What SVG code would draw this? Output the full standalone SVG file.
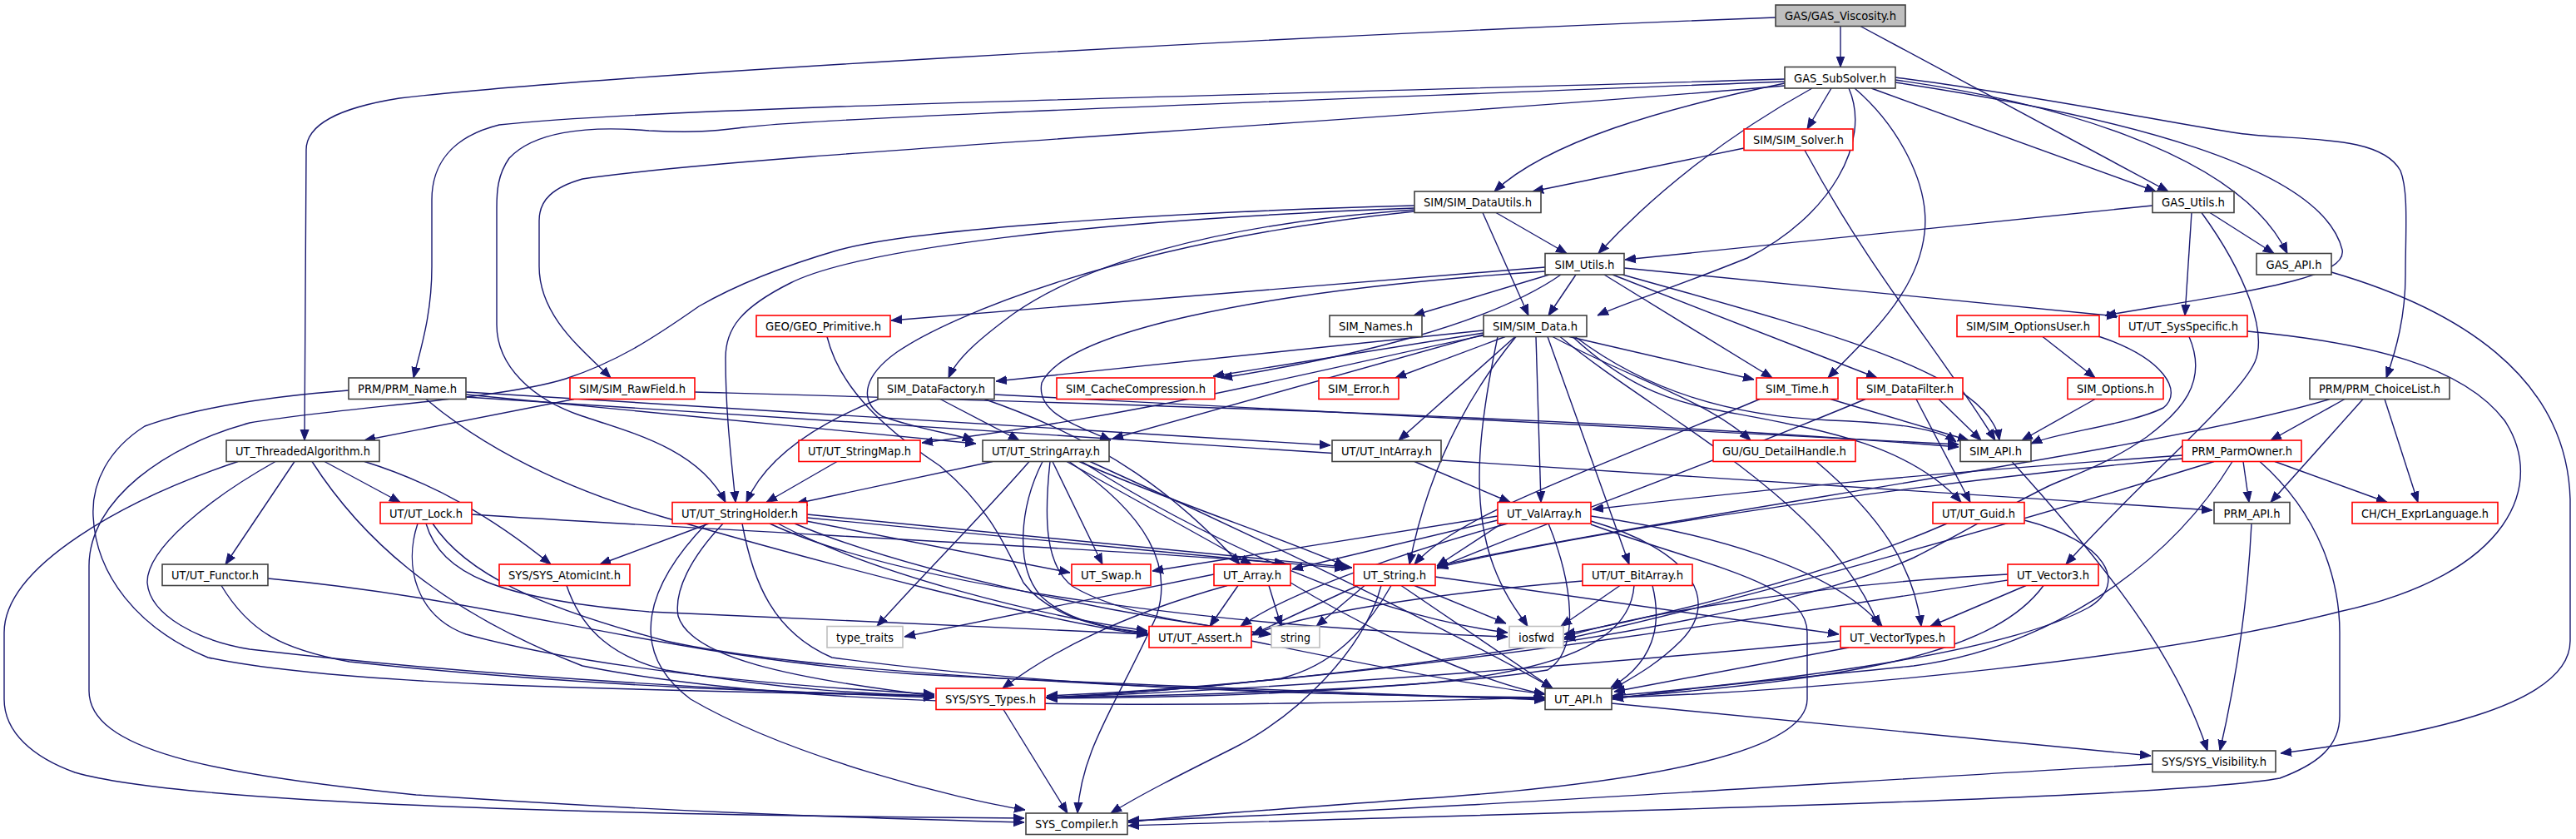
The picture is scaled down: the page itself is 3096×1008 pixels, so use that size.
<svg xmlns="http://www.w3.org/2000/svg" width="3096" height="1008" viewBox="0 0 3096 1008">
<style>
.node rect{fill:#ffffff;stroke:#404040;stroke-width:1.6}
.node.r rect{stroke:#ff0000}
.node.g rect{stroke:#bfbfbf}
.node text{font-family:"DejaVu Sans Condensed","DejaVu Sans",sans-serif;font-size:14px;fill:#000000;text-anchor:middle}
#edges path{fill:none;stroke:#191970;stroke-width:1.4;marker-end:url(#arr)}
</style>
<defs>
<marker id="arr" markerUnits="userSpaceOnUse" viewBox="0 -6 13 12" refX="13" refY="0" markerWidth="13" markerHeight="12" orient="auto">
<path d="M0,-5 L13,0 L0,5 Z" fill="#191970" stroke="#191970" stroke-width="1"/>
</marker>
</defs>
<rect x="0" y="0" width="3096" height="1008" fill="#ffffff"/>
<g id="edges">
<path d="M2212,31.5 L2212,80.5"/>
<path d="M2236,31.5 L2606,230"/>
<path d="M2134,21 C1500,45 700,92 480,118 C405,130 368,150 368,180 L366,529"/>
<path d="M2201,106 L2172,155"/>
<path d="M2145,100 C2000,130 1860,170 1796,230"/>
<path d="M2096,178 L1842,230"/>
<path d="M2249,106 L2591,230"/>
<path d="M1798,255.5 L1883,304.5"/>
<path d="M2178,106 C2080,160 1990,230 1921,304.5"/>
<path d="M2587,247 L1953,312"/>
<path d="M2656,255.5 L2733,304.5"/>
<path d="M2278,96 C2450,120 2690,180 2749,304.5"/>
<path d="M2278,99 C2550,140 2790,200 2815,300 C2822,335 2700,350 2530,379"/>
<path d="M2278,93 C2450,115 2620,150 2690,160 C2760,170 2860,160 2885,205 C2895,230 2891,280 2891,330 C2891,380 2880,420 2868,454"/>
<path d="M2145,95 C1500,115 800,128 600,150 C540,165 519,200 519,240 L519,320 C519,380 505,420 497,454"/>
<path d="M2145,103 C1600,150 900,185 700,215 C665,225 648,240 648,265 L648,320 C648,380 700,420 734,454"/>
<path d="M2145,98 C1600,120 1000,140 894,153 C860,157 840,160 780,157 C700,150 640,160 612,190 C598,210 597,230 597,250 L597,390 C597,440 640,480 700,500 C760,520 840,540 872,603.5"/>
<path d="M2222,106 C2250,170 2200,260 2100,310 C2000,350 1950,365 1920,379"/>
<path d="M2229,106 C2280,150 2320,220 2313,280 C2305,350 2250,400 2197,454"/>
<path d="M1782,255.5 L1837,379"/>
<path d="M1894,330 L1861,379"/>
<path d="M1857,321 L1071,385"/>
<path d="M1862,330 L1699,379"/>
<path d="M1928,330 L2130,454"/>
<path d="M1938,330 L2256,454"/>
<path d="M1952,322 L2545,380"/>
<path d="M1950,330 C2200,400 2390,450 2403,529"/>
<path d="M1857,326 C1500,350 1280,400 1252,460 C1245,495 1290,510 1335,529"/>
<path d="M1876,330 C1790,390 1620,430 1468,454"/>
<path d="M2634,255.5 L2626,379"/>
<path d="M2646,255.5 C2700,330 2725,400 2710,435 C2690,480 2560,590 2483,678"/>
<path d="M2802,327 C2950,370 3085,450 3089,600 L3089,770 C3089,850 2900,885 2741,905"/>
<path d="M2701,398 C2850,412 2960,440 3010,505 C3060,580 3020,690 2811,735 C2600,790 2200,830 1938,838"/>
<path d="M2631,404.5 C2655,460 2620,495 2580,525 C2530,560 2480,575 2460,585 C2400,615 2350,645 2300,670 C2100,760 1500,828 1257,838"/>
<path d="M1783,397 L1197,458"/>
<path d="M1783,400 L1458,452"/>
<path d="M1809,404.5 L1677,454"/>
<path d="M1886,404.5 L2108,456"/>
<path d="M1821,404.5 L1681,529"/>
<path d="M1866,404.5 C1960,455 2050,480 2104,529"/>
<path d="M1893,404.5 C1980,470 2080,500 2200,505 C2280,508 2330,515 2351,531"/>
<path d="M1846,404.5 L1852,603.5"/>
<path d="M1860,404.5 L1958,678"/>
<path d="M1822,404.5 C1760,480 1715,570 1694,678"/>
<path d="M1783,402 L1337,527"/>
<path d="M1783,403 C1600,440 1400,495 1108,532"/>
<path d="M1890,404.5 C1950,460 2000,480 2060,492 C2180,515 2290,530 2357,603.5"/>
<path d="M1800,404.5 C1780,500 1765,600 1795,680 C1810,720 1828,740 1836,752.5"/>
<path d="M1875,404.5 C1990,500 2200,600 2258,752.5"/>
<path d="M1700,247 C1400,255 1100,275 1009,300 C940,320 880,345 840,368 C780,410 740,435 680,455 C600,480 420,488 300,508 C200,535 107,600 107,680 L107,830 C107,900 250,930 500,955 C800,975 1000,982 1231,988"/>
<path d="M1700,250 C1300,265 1030,300 950,340 C890,370 872,395 872,430 C872,500 880,560 884,603.5"/>
<path d="M1700,252 C1450,270 1300,320 1218,377 C1180,405 1150,430 1140,454"/>
<path d="M1700,254 C1350,290 1140,380 1078,423 C1040,450 1030,480 1060,500 C1100,515 1150,522 1170,529"/>
<path d="M2169,180.5 C2250,330 2330,420 2398,529"/>
<path d="M2455,404.5 L2518,454"/>
<path d="M2522,404 C2600,430 2625,470 2600,490 C2560,510 2470,520 2441,533"/>
<path d="M2518,479.5 L2430,529"/>
<path d="M2200,479.5 L2366,529"/>
<path d="M2115,479.5 C1900,570 1750,620 1700,678"/>
<path d="M2330,479.5 L2381,529"/>
<path d="M2303,479.5 L2368,603.5"/>
<path d="M2242,479.5 C2050,560 1850,630 1727,683"/>
<path d="M690,479.5 L438,529"/>
<path d="M835,471 C1300,484 1900,500 2354,537"/>
<path d="M560,474 L1173,533"/>
<path d="M560,471 L1599,535"/>
<path d="M560,477 L2659,613"/>
<path d="M419,469 C300,478 220,495 174,512 C130,540 110,580 112,620 C115,690 165,755 250,790 C400,822 700,828 1123,836"/>
<path d="M512,479.5 C560,520 650,580 800,622 C1000,680 1250,745 1379,763"/>
<path d="M390,554.5 L481,603.5"/>
<path d="M354,554.5 L271,678"/>
<path d="M438,554.5 C520,580 590,620 662,678"/>
<path d="M286,554.5 C150,600 5,680 5,760 L5,840 C5,880 40,910 90,928 C200,960 600,978 1231,983"/>
<path d="M331,554.5 C250,600 176,660 177,700 C180,740 240,770 300,780 C600,815 900,830 1123,838"/>
<path d="M375,554.5 C430,640 520,730 700,800 C1000,860 1500,848 1857,838"/>
<path d="M567,618 C900,640 1400,662 1617,683"/>
<path d="M502,629 C485,680 500,740 560,762 C700,800 900,822 1123,834"/>
<path d="M512,629 C530,690 600,720 780,735 C1000,745 1250,755 1379,762"/>
<path d="M520,629 C560,690 650,730 800,770 C1000,815 1500,832 1857,840"/>
<path d="M322,695 C600,720 800,790 1100,810 C1400,825 1700,835 1857,841"/>
<path d="M266,703.5 C300,760 340,780 420,795 C700,825 950,832 1123,836"/>
<path d="M681,703.5 C700,760 740,790 800,805 C950,830 1050,834 1123,836"/>
<path d="M1006,554.5 L921,603.5"/>
<path d="M1193,554.5 L957,605"/>
<path d="M1237,554.5 C1180,620 1100,700 1054,752.5"/>
<path d="M1265,554.5 L1325,678"/>
<path d="M1282,554.5 L1504,678"/>
<path d="M1297,554.5 C1400,600 1550,650 1617,680"/>
<path d="M1253,554.5 C1225,610 1220,680 1250,715 C1280,745 1330,755 1379,760"/>
<path d="M1262,554.5 C1255,620 1255,680 1290,705 C1350,740 1450,752 1528,762"/>
<path d="M1285,554.5 C1380,620 1410,680 1390,740 C1340,850 1300,900 1295,977"/>
<path d="M1310,554.5 C1500,640 1750,760 1866,827"/>
<path d="M1300,554.5 C1450,650 1650,740 1812,760"/>
<path d="M1700,554.5 L1815,603.5"/>
<path d="M1800,620 L1385,686"/>
<path d="M1800,625 L1553,684"/>
<path d="M1805,629 L1727,680"/>
<path d="M1812,629 C1700,660 1550,710 1491,752.5"/>
<path d="M1861,629 C1890,700 1900,780 1860,805 C1700,830 1400,836 1258,838"/>
<path d="M1912,626 C2030,660 2070,720 2020,770 C1990,800 1960,815 1938,828"/>
<path d="M1912,630 C2050,680 2172,700 2172,760 L2172,840 C2172,900 2000,940 1700,960 C1500,975 1400,982 1356,988"/>
<path d="M1912,620 C2050,640 2200,680 2262,752.5"/>
<path d="M1459,690 L1087,765"/>
<path d="M1488,703.5 L1454,752.5"/>
<path d="M1475,703.5 C1380,730 1280,770 1205,827"/>
<path d="M1551,700 C1650,760 1780,820 1857,834"/>
<path d="M1525,703.5 L1540,752.5"/>
<path d="M1640,703.5 L1582,752.5"/>
<path d="M1632,703.5 L1506,762"/>
<path d="M1700,703.5 L1810,749"/>
<path d="M1684,703.5 L1866,827"/>
<path d="M1725,693 L2210,762"/>
<path d="M1672,703.5 C1640,760 1600,800 1540,815 C1400,832 1300,836 1258,838"/>
<path d="M1660,703.5 C1640,780 1560,860 1480,900 C1420,930 1370,955 1335,977"/>
<path d="M1947,703.5 L1876,752.5"/>
<path d="M1986,703.5 C2000,760 1980,800 1936,826"/>
<path d="M1964,703.5 C1960,760 1900,805 1700,822 C1500,838 1350,838 1258,839"/>
<path d="M1902,698 C1700,715 1560,740 1504,763"/>
<path d="M2435,703.5 L2320,752.5"/>
<path d="M2413,690 C2200,700 1950,740 1880,766"/>
<path d="M2456,703.5 C2400,780 2250,815 1938,838"/>
<path d="M2413,697 C2000,760 1600,822 1258,836"/>
<path d="M2222,778 L1940,831"/>
<path d="M2212,770 C1900,800 1500,830 1258,838"/>
<path d="M2340,629 C2200,690 2000,740 1880,762"/>
<path d="M2433,625 C2530,650 2560,700 2510,730 C2400,790 2100,822 1938,836"/>
<path d="M2696,554.5 L2703,603.5"/>
<path d="M2734,554.5 L2869,603.5"/>
<path d="M2623,547 C2300,570 2100,590 1914,612"/>
<path d="M2623,551 C2300,580 1900,640 1727,682"/>
<path d="M2661,554.5 C2450,620 2100,720 1880,768"/>
<path d="M2683,554.5 C2600,690 2450,780 2300,800 C2100,820 2000,830 1938,840"/>
<path d="M2716,554.5 C2790,620 2812,700 2812,760 L2812,860 C2812,900 2780,920 2740,935 C2600,960 1900,975 1356,992"/>
<path d="M2818,479.5 L2729,529"/>
<path d="M2840,479.5 L2729,603.5"/>
<path d="M2866,479.5 L2906,603.5"/>
<path d="M2800,479.5 C2600,540 2000,620 1727,680"/>
<path d="M2706,629 C2700,750 2680,850 2668,902"/>
<path d="M2418,554.5 C2550,700 2620,800 2653,902"/>
<path d="M1937,845 L2585,908"/>
<path d="M2587,918 C2200,940 1700,975 1356,986"/>
<path d="M1206,852.5 L1283,977"/>
<path d="M1504,770 C1650,800 1780,825 1857,834"/>
<path d="M994,404.5 C1010,470 1070,520 1130,560 C1190,610 1210,660 1230,700 C1260,740 1320,755 1379,761"/>
<path d="M1056,479.5 C980,510 920,550 897,603.5"/>
<path d="M1130,479.5 L1225,529"/>
<path d="M1183,479.5 C1330,530 1420,600 1490,678"/>
<path d="M1195,474 C1600,495 2000,515 2354,534"/>
<path d="M2183,554.5 C2260,620 2300,680 2309,752.5"/>
<path d="M852,629 L721,678"/>
<path d="M969,626 L1286,688"/>
<path d="M970,622 L1545,677"/>
<path d="M970,618 L1625,682"/>
<path d="M955,629 C1100,690 1350,740 1526,762"/>
<path d="M935,629 C1050,690 1250,740 1379,758"/>
<path d="M925,629 C1100,710 1500,755 1812,765"/>
<path d="M892,629 C905,700 930,760 1000,790 C1300,830 1600,835 1857,838"/>
<path d="M869,629 C830,670 810,710 815,740 C830,790 950,815 1123,836"/>
<path d="M849,629 C780,700 750,780 830,840 C950,910 1150,960 1232,973"/>
</g>
<g id="n_viscosity" class="node"><rect x="2134" y="6" width="156" height="25.5" style="fill:#bfbfbf"/><text x="2212" y="24" textLength="134" lengthAdjust="spacingAndGlyphs">GAS/GAS_Viscosity.h</text></g>
<g id="n_subsolver" class="node"><rect x="2145" y="80.5" width="133" height="25.5"/><text x="2211.5" y="98.5" textLength="111" lengthAdjust="spacingAndGlyphs">GAS_SubSolver.h</text></g>
<g id="n_simsolver" class="node r"><rect x="2096" y="155" width="131" height="25.5"/><text x="2161.5" y="173" textLength="109" lengthAdjust="spacingAndGlyphs">SIM/SIM_Solver.h</text></g>
<g id="n_datautils" class="node"><rect x="1700" y="230" width="152" height="25.5"/><text x="1776" y="248" textLength="130" lengthAdjust="spacingAndGlyphs">SIM/SIM_DataUtils.h</text></g>
<g id="n_gasutils" class="node"><rect x="2587" y="230" width="98" height="25.5"/><text x="2636" y="248" textLength="76" lengthAdjust="spacingAndGlyphs">GAS_Utils.h</text></g>
<g id="n_simutils" class="node"><rect x="1857" y="304.5" width="95" height="25.5"/><text x="1904.5" y="322.5" textLength="72" lengthAdjust="spacingAndGlyphs">SIM_Utils.h</text></g>
<g id="n_gasapi" class="node"><rect x="2712" y="304.5" width="90" height="25.5"/><text x="2757" y="322.5" textLength="67" lengthAdjust="spacingAndGlyphs">GAS_API.h</text></g>
<g id="n_geoprim" class="node r"><rect x="909" y="379" width="161" height="25.5"/><text x="989.5" y="397" textLength="139" lengthAdjust="spacingAndGlyphs">GEO/GEO_Primitive.h</text></g>
<g id="n_simnames" class="node"><rect x="1598" y="379" width="111" height="25.5"/><text x="1653.5" y="397" textLength="89" lengthAdjust="spacingAndGlyphs">SIM_Names.h</text></g>
<g id="n_simdata" class="node"><rect x="1783" y="379" width="124" height="25.5"/><text x="1845" y="397" textLength="102" lengthAdjust="spacingAndGlyphs">SIM/SIM_Data.h</text></g>
<g id="n_optionsuser" class="node r"><rect x="2352" y="379" width="171" height="25.5"/><text x="2437.5" y="397" textLength="149" lengthAdjust="spacingAndGlyphs">SIM/SIM_OptionsUser.h</text></g>
<g id="n_sysspecific" class="node r"><rect x="2547" y="379" width="154" height="25.5"/><text x="2624" y="397" textLength="132" lengthAdjust="spacingAndGlyphs">UT/UT_SysSpecific.h</text></g>
<g id="n_prmname" class="node"><rect x="419" y="454" width="141" height="25.5"/><text x="489.5" y="472" textLength="119" lengthAdjust="spacingAndGlyphs">PRM/PRM_Name.h</text></g>
<g id="n_rawfield" class="node r"><rect x="685" y="454" width="150" height="25.5"/><text x="760" y="472" textLength="128" lengthAdjust="spacingAndGlyphs">SIM/SIM_RawField.h</text></g>
<g id="n_datafactory" class="node"><rect x="1055" y="454" width="140" height="25.5"/><text x="1125" y="472" textLength="118" lengthAdjust="spacingAndGlyphs">SIM_DataFactory.h</text></g>
<g id="n_cachecomp" class="node r"><rect x="1270" y="454" width="190" height="25.5"/><text x="1365" y="472" textLength="168" lengthAdjust="spacingAndGlyphs">SIM_CacheCompression.h</text></g>
<g id="n_simerror" class="node r"><rect x="1585" y="454" width="96" height="25.5"/><text x="1633" y="472" textLength="74" lengthAdjust="spacingAndGlyphs">SIM_Error.h</text></g>
<g id="n_simtime" class="node r"><rect x="2111" y="454" width="98" height="25.5"/><text x="2160" y="472" textLength="76" lengthAdjust="spacingAndGlyphs">SIM_Time.h</text></g>
<g id="n_datafilter" class="node r"><rect x="2232" y="454" width="127" height="25.5"/><text x="2295.5" y="472" textLength="105" lengthAdjust="spacingAndGlyphs">SIM_DataFilter.h</text></g>
<g id="n_simoptions" class="node r"><rect x="2485" y="454" width="115" height="25.5"/><text x="2542.5" y="472" textLength="93" lengthAdjust="spacingAndGlyphs">SIM_Options.h</text></g>
<g id="n_choicelist" class="node"><rect x="2776" y="454" width="168" height="25.5"/><text x="2860" y="472" textLength="146" lengthAdjust="spacingAndGlyphs">PRM/PRM_ChoiceList.h</text></g>
<g id="n_threaded" class="node"><rect x="272" y="529" width="184" height="25.5"/><text x="364" y="547" textLength="162" lengthAdjust="spacingAndGlyphs">UT_ThreadedAlgorithm.h</text></g>
<g id="n_stringmap" class="node r"><rect x="960" y="529" width="146" height="25.5"/><text x="1033" y="547" textLength="124" lengthAdjust="spacingAndGlyphs">UT/UT_StringMap.h</text></g>
<g id="n_stringarray" class="node"><rect x="1181" y="529" width="152" height="25.5"/><text x="1257" y="547" textLength="130" lengthAdjust="spacingAndGlyphs">UT/UT_StringArray.h</text></g>
<g id="n_intarray" class="node"><rect x="1601" y="529" width="131" height="25.5"/><text x="1666.5" y="547" textLength="109" lengthAdjust="spacingAndGlyphs">UT/UT_IntArray.h</text></g>
<g id="n_detailhandle" class="node r"><rect x="2059" y="529" width="171" height="25.5"/><text x="2144.5" y="547" textLength="149" lengthAdjust="spacingAndGlyphs">GU/GU_DetailHandle.h</text></g>
<g id="n_simapi" class="node"><rect x="2356" y="529" width="85" height="25.5"/><text x="2398.5" y="547" textLength="63" lengthAdjust="spacingAndGlyphs">SIM_API.h</text></g>
<g id="n_parmowner" class="node r"><rect x="2623" y="529" width="143" height="25.5"/><text x="2694.5" y="547" textLength="121" lengthAdjust="spacingAndGlyphs">PRM_ParmOwner.h</text></g>
<g id="n_utlock" class="node r"><rect x="457" y="603.5" width="110" height="25.5"/><text x="512" y="621.5" textLength="88" lengthAdjust="spacingAndGlyphs">UT/UT_Lock.h</text></g>
<g id="n_stringholder" class="node r"><rect x="808" y="603.5" width="162" height="25.5"/><text x="889" y="621.5" textLength="140" lengthAdjust="spacingAndGlyphs">UT/UT_StringHolder.h</text></g>
<g id="n_valarray" class="node r"><rect x="1800" y="603.5" width="112" height="25.5"/><text x="1856" y="621.5" textLength="90" lengthAdjust="spacingAndGlyphs">UT_ValArray.h</text></g>
<g id="n_utguid" class="node r"><rect x="2323" y="603.5" width="110" height="25.5"/><text x="2378" y="621.5" textLength="88" lengthAdjust="spacingAndGlyphs">UT/UT_Guid.h</text></g>
<g id="n_prmapi" class="node"><rect x="2661" y="603.5" width="91" height="25.5"/><text x="2706.5" y="621.5" textLength="68" lengthAdjust="spacingAndGlyphs">PRM_API.h</text></g>
<g id="n_chexpr" class="node r"><rect x="2827" y="603.5" width="175" height="25.5"/><text x="2914.5" y="621.5" textLength="153" lengthAdjust="spacingAndGlyphs">CH/CH_ExprLanguage.h</text></g>
<g id="n_functor" class="node"><rect x="195" y="678" width="127" height="25.5"/><text x="258.5" y="696" textLength="105" lengthAdjust="spacingAndGlyphs">UT/UT_Functor.h</text></g>
<g id="n_atomicint" class="node r"><rect x="600" y="678" width="157" height="25.5"/><text x="678.5" y="696" textLength="135" lengthAdjust="spacingAndGlyphs">SYS/SYS_AtomicInt.h</text></g>
<g id="n_utswap" class="node r"><rect x="1288" y="678" width="95" height="25.5"/><text x="1335.5" y="696" textLength="73" lengthAdjust="spacingAndGlyphs">UT_Swap.h</text></g>
<g id="n_utarray" class="node r"><rect x="1459" y="678" width="92" height="25.5"/><text x="1505" y="696" textLength="70" lengthAdjust="spacingAndGlyphs">UT_Array.h</text></g>
<g id="n_utstring" class="node r"><rect x="1627" y="678" width="98" height="25.5"/><text x="1676" y="696" textLength="76" lengthAdjust="spacingAndGlyphs">UT_String.h</text></g>
<g id="n_bitarray" class="node r"><rect x="1902" y="678" width="132" height="25.5"/><text x="1968" y="696" textLength="110" lengthAdjust="spacingAndGlyphs">UT/UT_BitArray.h</text></g>
<g id="n_vector3" class="node r"><rect x="2413" y="678" width="109" height="25.5"/><text x="2467.5" y="696" textLength="87" lengthAdjust="spacingAndGlyphs">UT_Vector3.h</text></g>
<g id="n_typetraits" class="node g"><rect x="994" y="752.5" width="91" height="25.5"/><text x="1039.5" y="770.5" textLength="69" lengthAdjust="spacingAndGlyphs">type_traits</text></g>
<g id="n_utassert" class="node r"><rect x="1381" y="752.5" width="123" height="25.5"/><text x="1442.5" y="770.5" textLength="101" lengthAdjust="spacingAndGlyphs">UT/UT_Assert.h</text></g>
<g id="n_string" class="node g"><rect x="1528" y="752.5" width="58" height="25.5"/><text x="1557" y="770.5" textLength="36" lengthAdjust="spacingAndGlyphs">string</text></g>
<g id="n_iosfwd" class="node g"><rect x="1814" y="752.5" width="65" height="25.5"/><text x="1846.5" y="770.5" textLength="43" lengthAdjust="spacingAndGlyphs">iosfwd</text></g>
<g id="n_vectortypes" class="node r"><rect x="2212" y="752.5" width="137" height="25.5"/><text x="2280.5" y="770.5" textLength="115" lengthAdjust="spacingAndGlyphs">UT_VectorTypes.h</text></g>
<g id="n_systypes" class="node r"><rect x="1125" y="827" width="131" height="25.5"/><text x="1190.5" y="845" textLength="109" lengthAdjust="spacingAndGlyphs">SYS/SYS_Types.h</text></g>
<g id="n_utapi" class="node"><rect x="1857" y="827" width="80" height="25.5"/><text x="1897" y="845" textLength="58" lengthAdjust="spacingAndGlyphs">UT_API.h</text></g>
<g id="n_sysvis" class="node"><rect x="2587" y="902" width="148" height="25.5"/><text x="2661" y="920" textLength="126" lengthAdjust="spacingAndGlyphs">SYS/SYS_Visibility.h</text></g>
<g id="n_syscompiler" class="node"><rect x="1233" y="977" width="122" height="25.5"/><text x="1294" y="995" textLength="100" lengthAdjust="spacingAndGlyphs">SYS_Compiler.h</text></g>
</svg>
